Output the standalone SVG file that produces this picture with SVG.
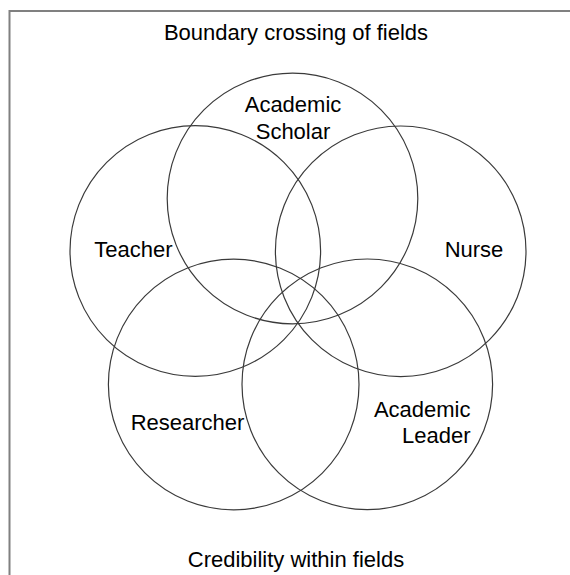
<svg xmlns="http://www.w3.org/2000/svg" width="570" height="575" viewBox="0 0 570 575">
<style>
.c{fill:none;stroke:#3a3a3a;stroke-width:1.2}
.t{font-family:"Liberation Sans",Arial,sans-serif;font-size:22px;fill:#000;text-anchor:middle}
.b{fill:none;stroke:#808080;stroke-width:2}
</style>
<rect width="570" height="575" fill="#fff"/>
<g id="frame"><path class="b" d="M570,11 H9.5 V575"/></g>
<text class="t" x="296" y="40">Boundary crossing of fields</text>
<text class="t" x="296" y="567">Credibility within fields</text>
<g id="scholar"><circle class="c" cx="292.5" cy="198.5" r="125.3"/><text class="t" x="293" y="112">Academic</text><text class="t" x="293" y="139">Scholar</text></g>
<g id="teacher"><circle class="c" cx="195.3" cy="251" r="125.3"/><text class="t" x="133.5" y="257">Teacher</text></g>
<g id="nurse"><circle class="c" cx="400.7" cy="251.3" r="125.3"/><text class="t" x="474" y="257">Nurse</text></g>
<g id="researcher"><circle class="c" cx="233.7" cy="384.5" r="125.3"/><text class="t" x="187.5" y="430">Researcher</text></g>
<g id="leader"><circle class="c" cx="367.3" cy="384.3" r="125.3"/><text class="t" x="470.5" y="417" style="text-anchor:end">Academic</text><text class="t" x="470.5" y="443" style="text-anchor:end">Leader</text></g>
<g id="connectors"/>
</svg>
